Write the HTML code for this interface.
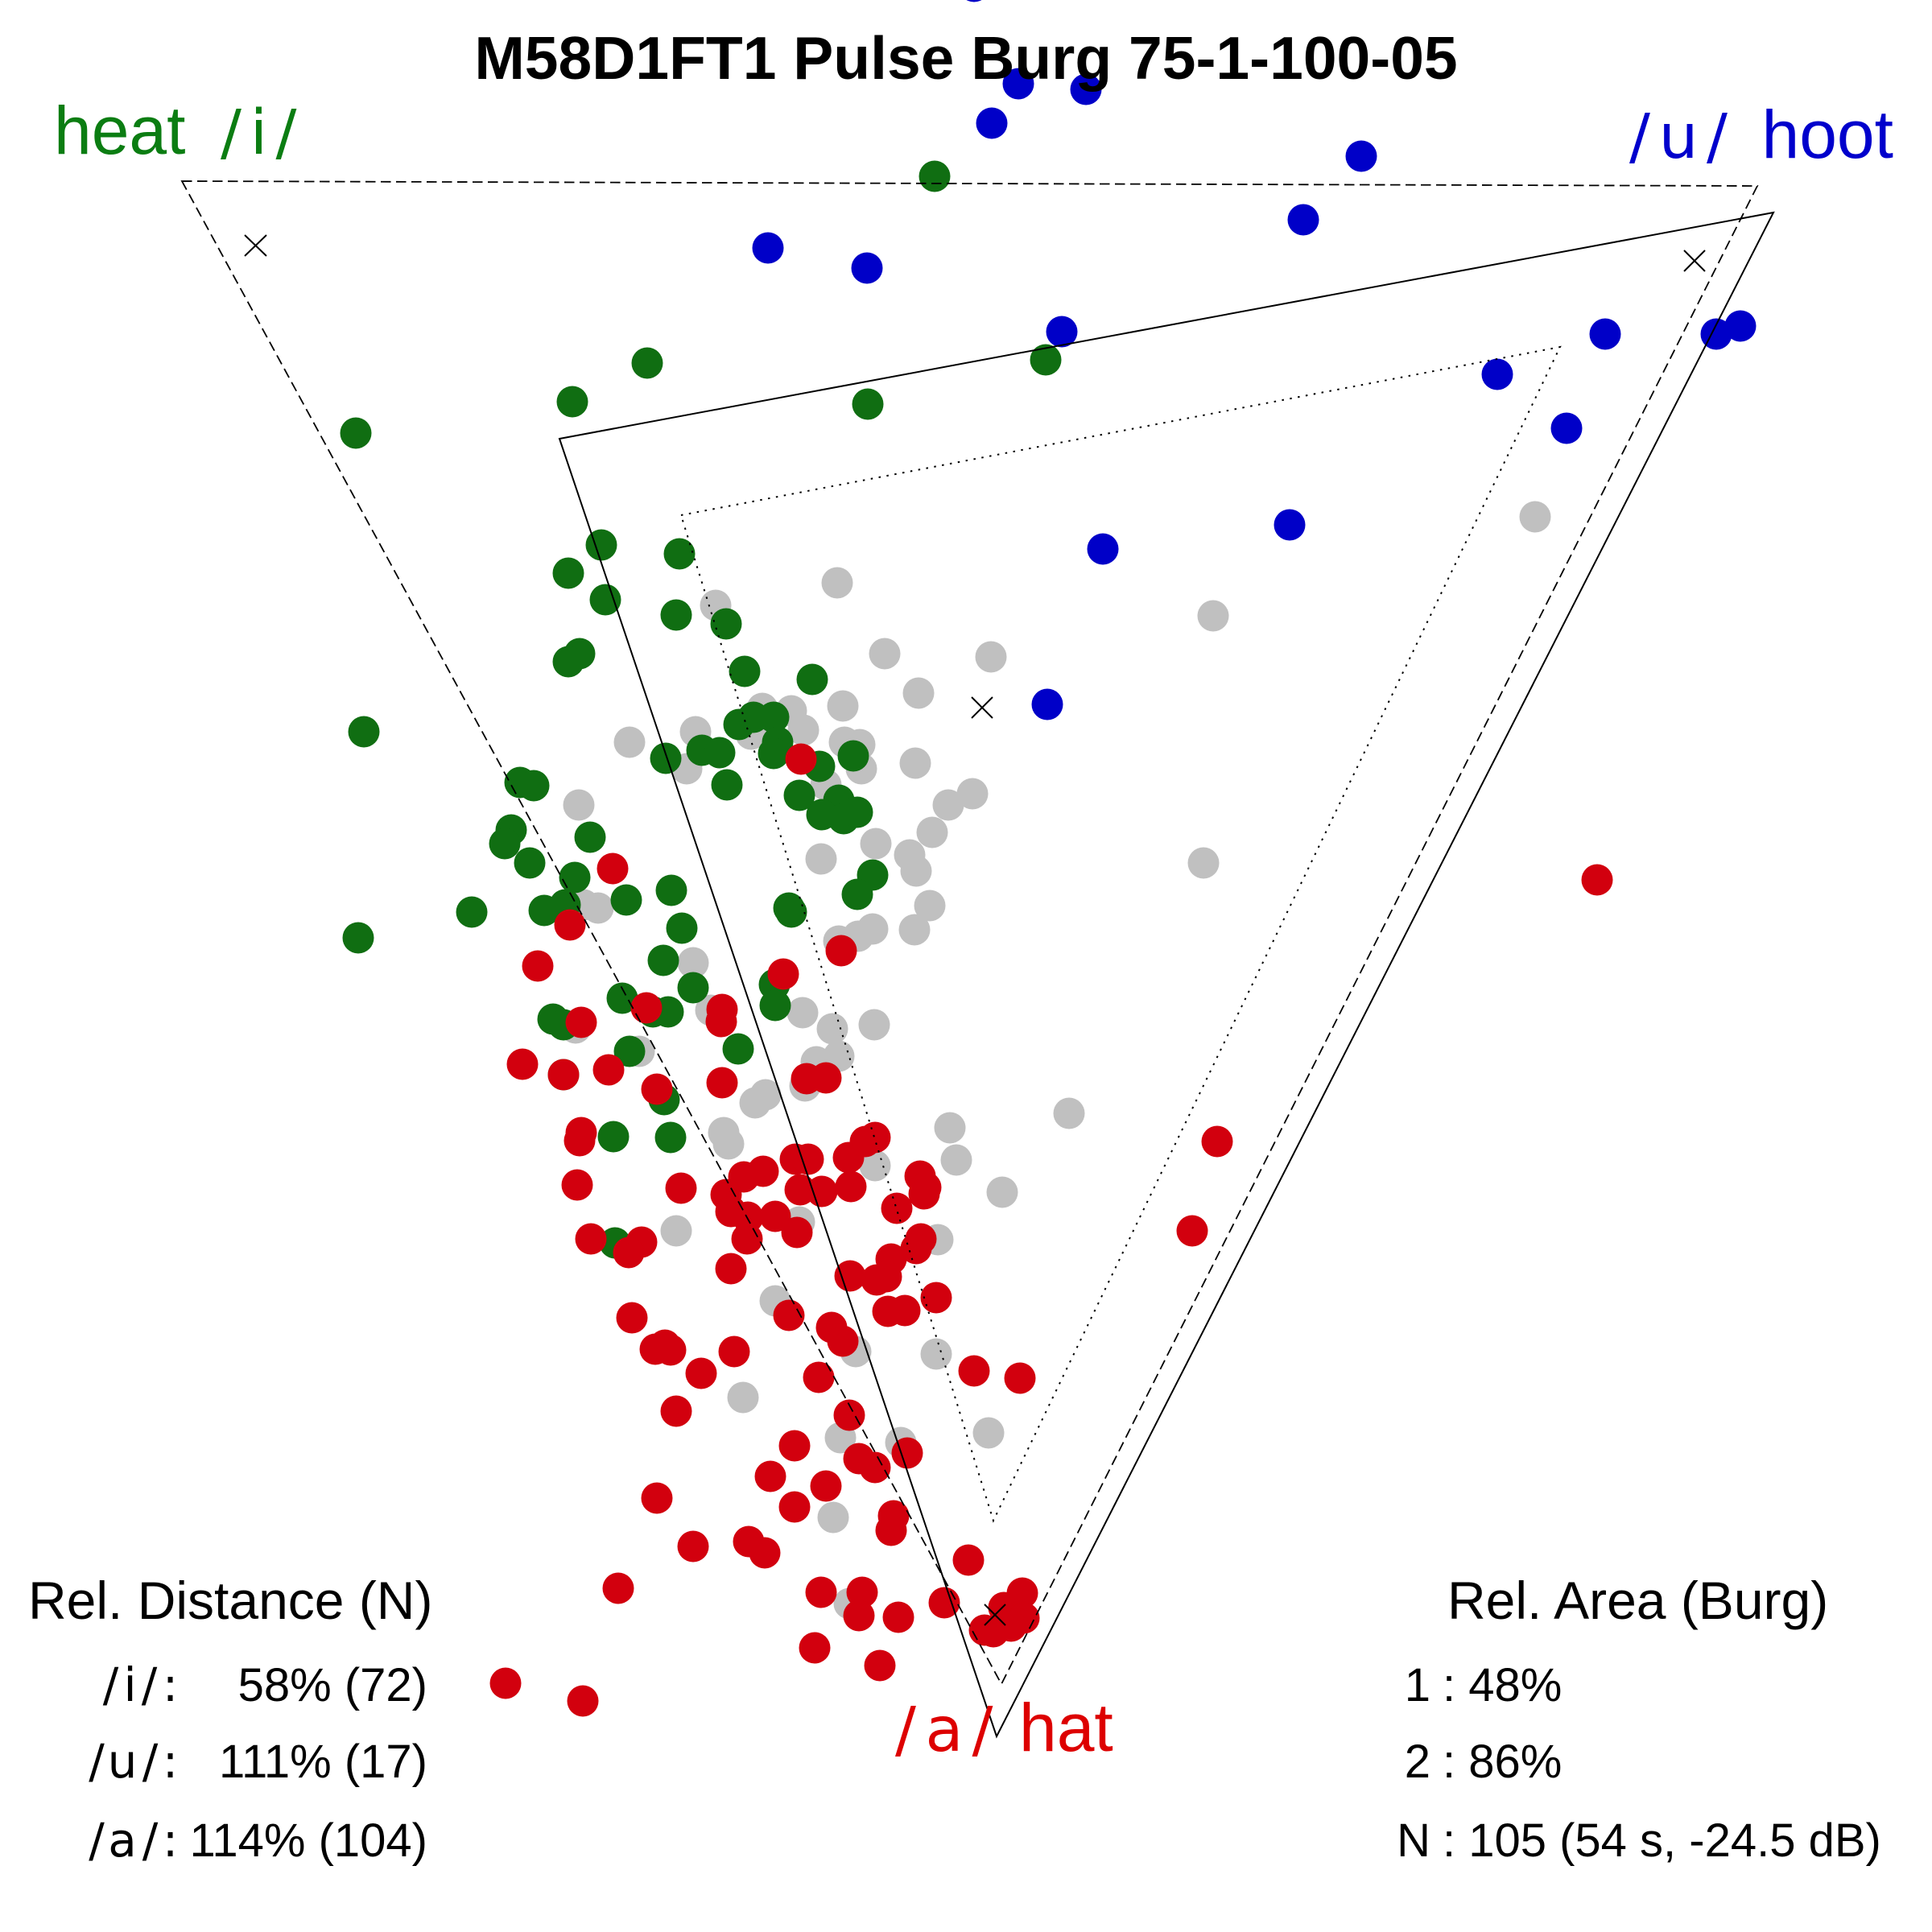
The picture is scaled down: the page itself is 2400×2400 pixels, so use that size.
<!DOCTYPE html>
<html>
<head>
<meta charset="utf-8">
<style>
html,body{margin:0;padding:0;background:#fff;}
svg{display:block;}
circle{r:19.5px;}
</style>
</head>
<body>
<svg xmlns="http://www.w3.org/2000/svg" width="2400" height="2400" viewBox="0 0 2400 2400">
<rect x="0" y="0" width="2400" height="2400" fill="#ffffff"/>

<!-- gray points -->
<g fill="#c0c0c0">
<circle cx="1907" cy="642" r="19.5"/><circle cx="1507" cy="765" r="19.5"/><circle cx="1040" cy="724" r="19.5"/>
<circle cx="1099" cy="812" r="19.5"/><circle cx="1231" cy="816" r="19.5"/><circle cx="1141" cy="861" r="19.5"/>
<circle cx="1047" cy="877" r="19.5"/><circle cx="889" cy="752" r="19.5"/><circle cx="782" cy="922" r="19.5"/>
<circle cx="864" cy="909" r="19.5"/><circle cx="853" cy="955" r="19.5"/><circle cx="947" cy="880" r="19.5"/>
<circle cx="983" cy="883" r="19.5"/><circle cx="998" cy="907" r="19.5"/><circle cx="933" cy="912" r="19.5"/>
<circle cx="1049" cy="922" r="19.5"/><circle cx="1068" cy="925" r="19.5"/><circle cx="1070" cy="955" r="19.5"/>
<circle cx="1137" cy="948" r="19.5"/><circle cx="1026" cy="975" r="19.5"/><circle cx="1178" cy="1000" r="19.5"/>
<circle cx="1208" cy="986" r="19.5"/><circle cx="1158" cy="1034" r="19.5"/><circle cx="1088" cy="1048" r="19.5"/>
<circle cx="1130" cy="1062" r="19.5"/><circle cx="1138" cy="1082" r="19.5"/><circle cx="1020" cy="1067" r="19.5"/>
<circle cx="1495" cy="1072" r="19.5"/><circle cx="1155" cy="1125" r="19.5"/><circle cx="1136" cy="1155" r="19.5"/>
<circle cx="1042" cy="1169" r="19.5"/><circle cx="1066" cy="1163" r="19.5"/><circle cx="1084" cy="1154" r="19.5"/>
<circle cx="719" cy="1000" r="19.5"/><circle cx="725" cy="1124" r="19.5"/><circle cx="743" cy="1128" r="19.5"/>
<circle cx="861" cy="1196" r="19.5"/><circle cx="997" cy="1258" r="19.5"/><circle cx="883" cy="1255" r="19.5"/>
<circle cx="715" cy="1277" r="19.5"/><circle cx="794" cy="1306" r="19.5"/><circle cx="1034" cy="1278" r="19.5"/>
<circle cx="1086" cy="1273" r="19.5"/><circle cx="1014" cy="1319" r="19.5"/><circle cx="1042" cy="1312" r="19.5"/>
<circle cx="1000" cy="1349" r="19.5"/><circle cx="951" cy="1360" r="19.5"/><circle cx="938" cy="1370" r="19.5"/>
<circle cx="899" cy="1407" r="19.5"/><circle cx="905" cy="1421" r="19.5"/><circle cx="1087" cy="1448" r="19.5"/>
<circle cx="993" cy="1518" r="19.5"/><circle cx="840" cy="1529" r="19.5"/><circle cx="1328" cy="1383" r="19.5"/>
<circle cx="1180" cy="1401" r="19.5"/><circle cx="1188" cy="1441" r="19.5"/><circle cx="1245" cy="1481" r="19.5"/>
<circle cx="1165" cy="1540" r="19.5"/><circle cx="963" cy="1616" r="19.5"/><circle cx="1063" cy="1679" r="19.5"/>
<circle cx="1163" cy="1682" r="19.5"/><circle cx="923" cy="1736" r="19.5"/><circle cx="1228" cy="1780" r="19.5"/>
<circle cx="1044" cy="1786" r="19.5"/><circle cx="1119" cy="1792" r="19.5"/><circle cx="1035" cy="1885" r="19.5"/>
<circle cx="1055" cy="1992" r="19.5"/>
</g>

<!-- blue points -->
<g fill="#0000c8">
<circle cx="1210" cy="-17" r="19.5"/><circle cx="1265" cy="104" r="19.5"/><circle cx="1349" cy="111" r="19.5"/>
<circle cx="1232" cy="153" r="19.5"/><circle cx="1691" cy="194" r="19.5"/><circle cx="1619" cy="273" r="19.5"/>
<circle cx="954" cy="308" r="19.5"/><circle cx="1077" cy="333" r="19.5"/><circle cx="1319" cy="412" r="19.5"/>
<circle cx="1370" cy="682" r="19.5"/><circle cx="1602" cy="652" r="19.5"/><circle cx="1301" cy="875" r="19.5"/>
<circle cx="2132" cy="415" r="19.5"/><circle cx="2162" cy="405" r="19.5"/><circle cx="1994" cy="415" r="19.5"/>
<circle cx="1860" cy="465" r="19.5"/><circle cx="1946" cy="532" r="19.5"/>
</g>

<!-- green points -->
<g fill="#106e12">
<circle cx="804" cy="451" r="19.5"/><circle cx="711" cy="499" r="19.5"/><circle cx="442" cy="538" r="19.5"/>
<circle cx="1161" cy="219" r="19.5"/><circle cx="1299" cy="447" r="19.5"/><circle cx="1078" cy="502" r="19.5"/>
<circle cx="747" cy="677" r="19.5"/><circle cx="844" cy="688" r="19.5"/><circle cx="706" cy="712" r="19.5"/>
<circle cx="752" cy="745" r="19.5"/><circle cx="840" cy="764" r="19.5"/><circle cx="902" cy="775" r="19.5"/>
<circle cx="720" cy="812" r="19.5"/><circle cx="706" cy="822" r="19.5"/><circle cx="925" cy="834" r="19.5"/>
<circle cx="1009" cy="844" r="19.5"/><circle cx="452" cy="909" r="19.5"/><circle cx="827" cy="942" r="19.5"/>
<circle cx="872" cy="932" r="19.5"/><circle cx="894" cy="935" r="19.5"/><circle cx="903" cy="975" r="19.5"/>
<circle cx="918" cy="900" r="19.5"/><circle cx="936" cy="891" r="19.5"/><circle cx="961" cy="891" r="19.5"/>
<circle cx="966" cy="922" r="19.5"/><circle cx="961" cy="936" r="19.5"/><circle cx="993" cy="988" r="19.5"/>
<circle cx="1018" cy="952" r="19.5"/><circle cx="1060" cy="939" r="19.5"/><circle cx="1042" cy="994" r="19.5"/>
<circle cx="1021" cy="1012" r="19.5"/><circle cx="1048" cy="1017" r="19.5"/><circle cx="1065" cy="1009" r="19.5"/>
<circle cx="1084" cy="1087" r="19.5"/><circle cx="1065" cy="1111" r="19.5"/><circle cx="980" cy="1128" r="19.5"/>
<circle cx="983" cy="1133" r="19.5"/><circle cx="646" cy="972" r="19.5"/><circle cx="663" cy="976" r="19.5"/>
<circle cx="635" cy="1031" r="19.5"/><circle cx="627" cy="1048" r="19.5"/><circle cx="733" cy="1040" r="19.5"/>
<circle cx="658" cy="1072" r="19.5"/><circle cx="714" cy="1090" r="19.5"/><circle cx="586" cy="1133" r="19.5"/>
<circle cx="676" cy="1131" r="19.5"/><circle cx="702" cy="1124" r="19.5"/><circle cx="778" cy="1118" r="19.5"/>
<circle cx="834" cy="1106" r="19.5"/><circle cx="847" cy="1153" r="19.5"/><circle cx="445" cy="1165" r="19.5"/>
<circle cx="824" cy="1193" r="19.5"/><circle cx="861" cy="1227" r="19.5"/><circle cx="962" cy="1223" r="19.5"/>
<circle cx="963" cy="1249" r="19.5"/><circle cx="773" cy="1240" r="19.5"/><circle cx="811" cy="1257" r="19.5"/>
<circle cx="830" cy="1257" r="19.5"/><circle cx="687" cy="1266" r="19.5"/><circle cx="700" cy="1273" r="19.5"/>
<circle cx="917" cy="1303" r="19.5"/><circle cx="782" cy="1306" r="19.5"/><circle cx="700" cy="1335" r="19.5"/>
<circle cx="825" cy="1366" r="19.5"/><circle cx="762" cy="1412" r="19.5"/><circle cx="833" cy="1413" r="19.5"/>
<circle cx="764" cy="1544" r="19.5"/>
</g>

<!-- red points -->
<g fill="#d2000e">
<circle cx="1984" cy="1093" r="19.5"/><circle cx="995" cy="943" r="19.5"/><circle cx="761" cy="1079" r="19.5"/>
<circle cx="708" cy="1149" r="19.5"/><circle cx="668" cy="1200" r="19.5"/><circle cx="973" cy="1210" r="19.5"/>
<circle cx="1045" cy="1181" r="19.5"/><circle cx="803" cy="1252" r="19.5"/><circle cx="897" cy="1254" r="19.5"/>
<circle cx="896" cy="1269" r="19.5"/><circle cx="722" cy="1270" r="19.5"/><circle cx="649" cy="1322" r="19.5"/>
<circle cx="700" cy="1335" r="19.5"/><circle cx="756" cy="1329" r="19.5"/><circle cx="897" cy="1345" r="19.5"/>
<circle cx="816" cy="1353" r="19.5"/><circle cx="1002" cy="1340" r="19.5"/><circle cx="1026" cy="1339" r="19.5"/>
<circle cx="722" cy="1407" r="19.5"/><circle cx="720" cy="1417" r="19.5"/><circle cx="717" cy="1472" r="19.5"/>
<circle cx="846" cy="1476" r="19.5"/><circle cx="924" cy="1462" r="19.5"/><circle cx="948" cy="1455" r="19.5"/>
<circle cx="902" cy="1484" r="19.5"/><circle cx="908" cy="1505" r="19.5"/><circle cx="929" cy="1512" r="19.5"/>
<circle cx="963" cy="1511" r="19.5"/><circle cx="928" cy="1539" r="19.5"/><circle cx="990" cy="1531" r="19.5"/>
<circle cx="988" cy="1440" r="19.5"/><circle cx="1004" cy="1440" r="19.5"/><circle cx="994" cy="1478" r="19.5"/>
<circle cx="1021" cy="1480" r="19.5"/><circle cx="1054" cy="1438" r="19.5"/><circle cx="1075" cy="1418" r="19.5"/>
<circle cx="1087" cy="1413" r="19.5"/><circle cx="1057" cy="1474" r="19.5"/><circle cx="1143" cy="1461" r="19.5"/>
<circle cx="1150" cy="1475" r="19.5"/><circle cx="1148" cy="1483" r="19.5"/><circle cx="1114" cy="1501" r="19.5"/>
<circle cx="1144" cy="1539" r="19.5"/><circle cx="1138" cy="1551" r="19.5"/><circle cx="1107" cy="1564" r="19.5"/>
<circle cx="1056" cy="1585" r="19.5"/><circle cx="1089" cy="1590" r="19.5"/><circle cx="1101" cy="1586" r="19.5"/>
<circle cx="1163" cy="1612" r="19.5"/><circle cx="1103" cy="1629" r="19.5"/><circle cx="1124" cy="1628" r="19.5"/>
<circle cx="1033" cy="1649" r="19.5"/><circle cx="1047" cy="1666" r="19.5"/><circle cx="1210" cy="1703" r="19.5"/>
<circle cx="1267" cy="1712" r="19.5"/><circle cx="1017" cy="1711" r="19.5"/><circle cx="1055" cy="1758" r="19.5"/>
<circle cx="1512" cy="1418" r="19.5"/><circle cx="1481" cy="1529" r="19.5"/><circle cx="734" cy="1539" r="19.5"/>
<circle cx="797" cy="1543" r="19.5"/><circle cx="781" cy="1556" r="19.5"/><circle cx="908" cy="1576" r="19.5"/>
<circle cx="980" cy="1634" r="19.5"/><circle cx="785" cy="1637" r="19.5"/><circle cx="814" cy="1676" r="19.5"/>
<circle cx="826" cy="1671" r="19.5"/><circle cx="833" cy="1677" r="19.5"/><circle cx="912" cy="1679" r="19.5"/>
<circle cx="871" cy="1706" r="19.5"/><circle cx="840" cy="1753" r="19.5"/><circle cx="987" cy="1796" r="19.5"/>
<circle cx="1067" cy="1812" r="19.5"/><circle cx="1087" cy="1823" r="19.5"/><circle cx="1127" cy="1805" r="19.5"/>
<circle cx="957" cy="1834" r="19.5"/><circle cx="1026" cy="1846" r="19.5"/><circle cx="816" cy="1861" r="19.5"/>
<circle cx="987" cy="1872" r="19.5"/><circle cx="1110" cy="1883" r="19.5"/><circle cx="1107" cy="1901" r="19.5"/>
<circle cx="861" cy="1921" r="19.5"/><circle cx="930" cy="1915" r="19.5"/><circle cx="950" cy="1929" r="19.5"/>
<circle cx="1203" cy="1938" r="19.5"/><circle cx="768" cy="1973" r="19.5"/><circle cx="1020" cy="1978" r="19.5"/>
<circle cx="1071" cy="1978" r="19.5"/><circle cx="1067" cy="2007" r="19.5"/><circle cx="1116" cy="2009" r="19.5"/>
<circle cx="1173" cy="1991" r="19.5"/><circle cx="1270" cy="1979" r="19.5"/><circle cx="1247" cy="1997" r="19.5"/>
<circle cx="1272" cy="2010" r="19.5"/><circle cx="1256" cy="2020" r="19.5"/><circle cx="1234" cy="2027" r="19.5"/>
<circle cx="1223" cy="2025" r="19.5"/><circle cx="1012" cy="2047" r="19.5"/><circle cx="1093" cy="2069" r="19.5"/>
<circle cx="628" cy="2091" r="19.5"/><circle cx="724" cy="2113" r="19.5"/>
</g>

<!-- triangles -->
<polygon points="226,225 2183,231 1244,2092" fill="none" stroke="#000" stroke-width="1.8" stroke-dasharray="12.5,6.5"/>
<polygon points="695,545 2203,264 1238,2157" fill="none" stroke="#000" stroke-width="2"/>
<polygon points="846,640 1938,431 1234,1889" fill="none" stroke="#000" stroke-width="2" stroke-dasharray="2.5,7.5"/>

<!-- x markers -->
<g stroke="#000" stroke-width="2" fill="none">
<path d="M304,292 L331,318 M331,292 L304,318"/>
<path d="M2092,311 L2118,337 M2118,311 L2092,337"/>
<path d="M1207,866 L1233,892 M1233,866 L1207,892"/>
<path d="M1223,1993 L1249,2019 M1249,1993 L1223,2019"/>
</g>

<!-- title -->
<text x="1200" y="98" text-anchor="middle" font-family="Liberation Sans, Arial, sans-serif" font-weight="bold" font-size="75" fill="#000">M58D1FT1 Pulse Burg 75-1-100-05</text>

<!-- corner labels -->
<g font-family="Liberation Sans, Arial, sans-serif" font-size="84">
<text x="67" y="191" fill="#0b7d12">heat</text>
<text x="2352" y="196" text-anchor="end" fill="#0000cc">hoot</text>
<text x="1266" y="2175" fill="#dd0000">hat</text>
</g>
<g font-family="DejaVu Sans, sans-serif" font-size="77" text-anchor="middle">
<text x="287" y="191" fill="#0b7d12">/</text>
<text x="321.5" y="191" fill="#0b7d12">i</text>
<text x="355.5" y="191" fill="#0b7d12">/</text>
<text x="2037" y="196" fill="#0000cc">/</text>
<text x="2085" y="196" fill="#0000cc">u</text>
<text x="2133" y="196" fill="#0000cc">/</text>
<text x="1125" y="2175" fill="#dd0000">/</text>
<text x="1173" y="2175" fill="#dd0000">a</text>
<text x="1220.5" y="2175" fill="#dd0000">/</text>
</g>

<!-- bottom-left block -->
<g font-family="Liberation Sans, Arial, sans-serif" fill="#000">
<text x="35" y="2011" font-size="66">Rel. Distance (N)</text>
<text x="531" y="2113" font-size="58" text-anchor="end">58% (72)</text>
<text x="531" y="2208" font-size="58" text-anchor="end">111% (17)</text>
<text x="531" y="2306" font-size="58" text-anchor="end">114% (104)</text>
</g>
<g font-family="DejaVu Sans, sans-serif" font-size="58" text-anchor="middle" fill="#000">
<text x="137.5" y="2113">/</text><text x="161.5" y="2113">i</text><text x="185.5" y="2113">/</text><text x="211.5" y="2113">:</text>
<text x="120" y="2208">/</text><text x="152" y="2208">u</text><text x="186.5" y="2208">/</text><text x="211.5" y="2208">:</text>
<text x="120" y="2306">/</text><text x="152" y="2306">a</text><text x="186.5" y="2306">/</text><text x="211.5" y="2306">:</text>
</g>

<!-- bottom-right block -->
<g font-family="Liberation Sans, Arial, sans-serif" fill="#000">
<text x="1798" y="2011" font-size="66">Rel. Area (Burg)</text>
<text x="1777" y="2113" font-size="58" text-anchor="end">1</text>
<text x="1792" y="2113" font-size="58">: 48%</text>
<text x="1777" y="2208" font-size="58" text-anchor="end">2</text>
<text x="1792" y="2208" font-size="58">: 86%</text>
<text x="1777" y="2306" font-size="58" text-anchor="end">N</text>
<text x="1792" y="2306" font-size="58">: 105 (54 s, -24.5 dB)</text>
</g>
</svg>
</body>
</html>
